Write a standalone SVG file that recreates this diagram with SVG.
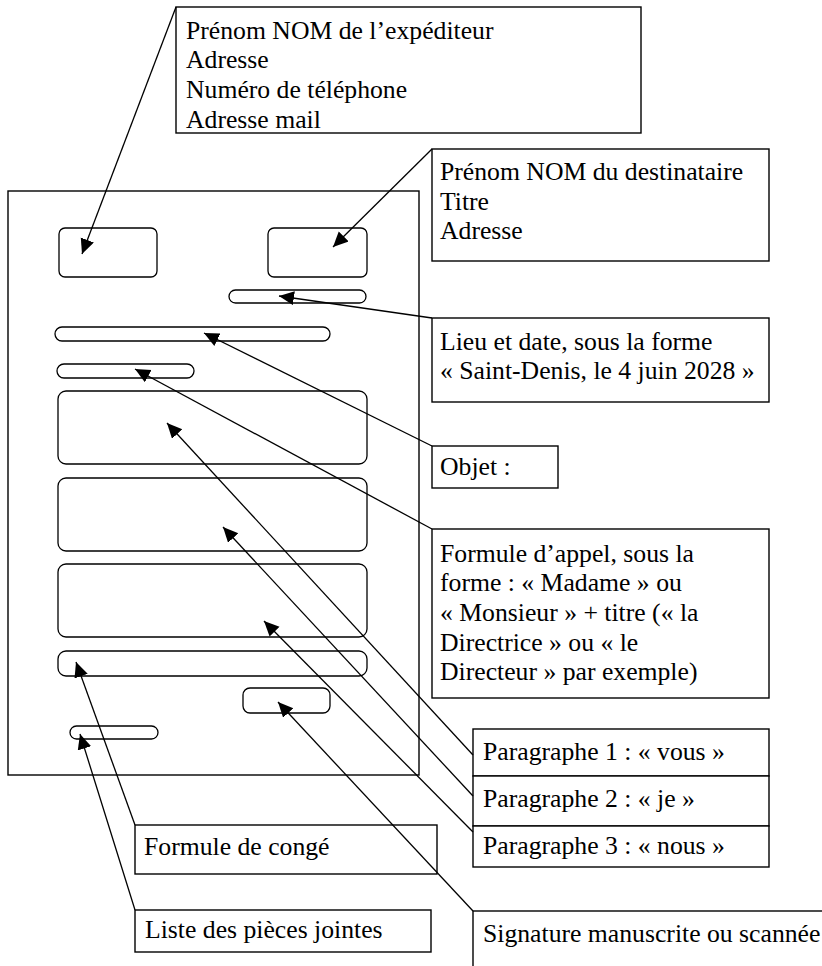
<svg xmlns="http://www.w3.org/2000/svg" width="822" height="966" viewBox="0 0 822 966">
<style>
.box{fill:#fff;stroke:#000;stroke-width:1.4}
.shape{fill:#fff;stroke:#000;stroke-width:1.3}
.conn{fill:none;stroke:#000;stroke-width:1.3}
.lbl{font-family:'Liberation Serif','Times New Roman',serif;font-size:25.7px;fill:#000}
</style>
<defs>
<marker id="ah" markerUnits="userSpaceOnUse" markerWidth="17" markerHeight="15" refX="15" refY="7" orient="auto">
<path d="M0,0 L15,7 L0,14 z" fill="#000"/>
</marker>
</defs>
<rect width="822" height="966" fill="#fff"/>
<g id="letter">
<rect class="box" x="8" y="191" width="411" height="584"/>
<rect id="sender-area" class="shape" x="59" y="228" width="98" height="49" rx="6"/>
<rect id="recipient-area" class="shape" x="268" y="228" width="99" height="49" rx="6"/>
<rect id="date-area" class="shape" x="229" y="290" width="137" height="13" rx="6.5"/>
<rect id="object-area" class="shape" x="55" y="327" width="275" height="14" rx="7"/>
<rect id="salutation-area" class="shape" x="57" y="364" width="137" height="14" rx="7"/>
<rect id="para1-area" class="shape" x="58" y="391" width="309" height="73" rx="8"/>
<rect id="para2-area" class="shape" x="58" y="478" width="309" height="73" rx="8"/>
<rect id="para3-area" class="shape" x="58" y="564" width="309" height="73" rx="8"/>
<rect id="closing-area" class="shape" x="58" y="651" width="309" height="25" rx="8"/>
<rect id="signature-area" class="shape" x="243" y="688" width="87" height="25" rx="7"/>
<rect id="attachments-area" class="shape" x="70" y="726" width="88" height="13" rx="6.5"/>
</g>
<g id="sender">
<rect class="box" x="176" y="7" width="465" height="126"/>
<text class="lbl" x="186" y="39">Prénom NOM de l’expéditeur</text>
<text class="lbl" x="186" y="68">Adresse</text>
<text class="lbl" x="186" y="98">Numéro de téléphone</text>
<text class="lbl" x="186" y="128">Adresse mail</text>
</g>
<g id="recipient">
<rect class="box" x="432" y="149" width="337" height="112"/>
<text class="lbl" x="440" y="180">Prénom NOM du destinataire</text>
<text class="lbl" x="440" y="210">Titre</text>
<text class="lbl" x="440" y="239">Adresse</text>
</g>
<g id="date">
<rect class="box" x="432" y="318" width="337" height="84"/>
<text class="lbl" x="440" y="350">Lieu et date, sous la forme</text>
<text class="lbl" x="440" y="379">« Saint-Denis, le 4 juin 2028 »</text>
</g>
<g id="object">
<rect class="box" x="432" y="446" width="126" height="42"/>
<text class="lbl" x="440" y="475">Objet :</text>
</g>
<g id="salutation">
<rect class="box" x="432" y="529" width="337" height="169"/>
<text class="lbl" x="440" y="562">Formule d’appel, sous la</text>
<text class="lbl" x="440" y="591">forme : « Madame » ou</text>
<text class="lbl" x="440" y="621">« Monsieur » + titre (« la</text>
<text class="lbl" x="440" y="651">Directrice » ou « le</text>
<text class="lbl" x="440" y="680">Directeur » par exemple)</text>
</g>
<g id="para1">
<rect class="box" x="473" y="729" width="296" height="47"/>
<text class="lbl" x="483" y="760">Paragraphe 1 : « vous »</text>
</g>
<g id="para2">
<rect class="box" x="473" y="776" width="296" height="50"/>
<text class="lbl" x="483" y="807">Paragraphe 2 : « je »</text>
</g>
<g id="para3">
<rect class="box" x="473" y="826" width="296" height="41"/>
<text class="lbl" x="483" y="854">Paragraphe 3 : « nous »</text>
</g>
<g id="closing">
<rect class="box" x="135" y="825" width="302" height="49"/>
<text class="lbl" x="144" y="855">Formule de congé</text>
</g>
<g id="attachments">
<rect class="box" x="135" y="910" width="296" height="42"/>
<text class="lbl" x="145" y="938">Liste des pièces jointes</text>
</g>
<g id="signature">
<rect class="box" x="473" y="911" width="400" height="100"/>
<text class="lbl" x="483" y="942">Signature manuscrite ou scannée</text>
</g>
<g id="connectors">
<line class="conn" x1="176" y1="7" x2="82" y2="254" marker-end="url(#ah)"/>
<line class="conn" x1="432" y1="149" x2="333" y2="247" marker-end="url(#ah)"/>
<line class="conn" x1="432" y1="318" x2="279" y2="296" marker-end="url(#ah)"/>
<line class="conn" x1="432" y1="446" x2="204" y2="333" marker-end="url(#ah)"/>
<line class="conn" x1="432" y1="529" x2="135" y2="369" marker-end="url(#ah)"/>
<line class="conn" x1="473" y1="755" x2="167" y2="423" marker-end="url(#ah)"/>
<line class="conn" x1="473" y1="796" x2="223" y2="527" marker-end="url(#ah)"/>
<line class="conn" x1="473" y1="832" x2="264" y2="621" marker-end="url(#ah)"/>
<line class="conn" x1="135" y1="825" x2="76" y2="662" marker-end="url(#ah)"/>
<line class="conn" x1="135" y1="910" x2="80" y2="734" marker-end="url(#ah)"/>
<line class="conn" x1="473" y1="911" x2="278" y2="702" marker-end="url(#ah)"/>
</g>
</svg>
